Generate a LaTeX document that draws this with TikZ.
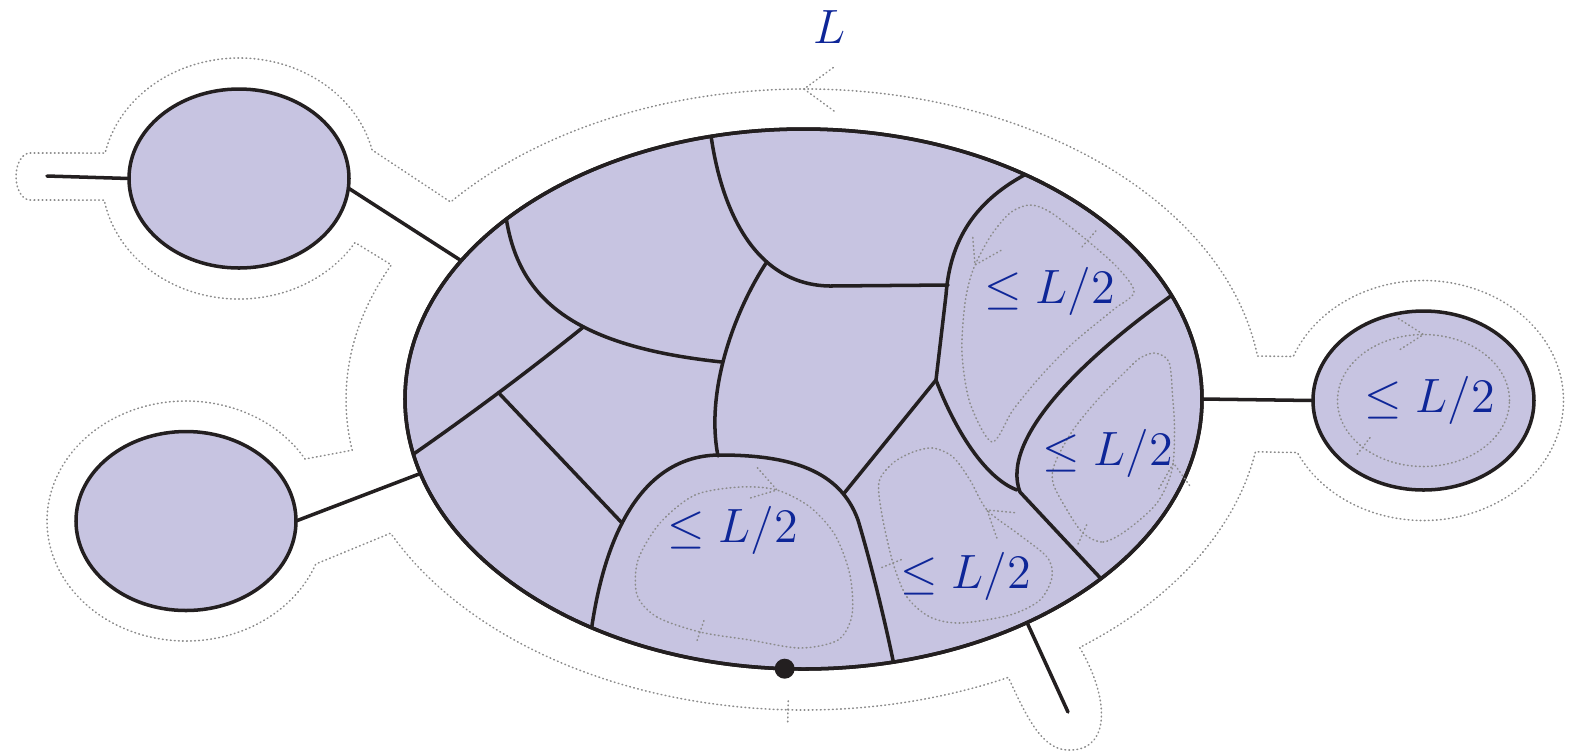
\RequirePackage{fix-cm}
\documentclass[tikz,border=0pt]{standalone}
\usetikzlibrary{shapes.geometric,calc}
\begin{document}
\begin{tikzpicture}[x=1cm,y=1cm,line cap=round,line join=round]
\definecolor{blobc}{RGB}{199,196,225}
\definecolor{wallc}{RGB}{35,31,32}
\definecolor{labc}{RGB}{14,38,152}
\colorlet{loopc}{black!45}

\tikzset{
blob/.style={ellipse, draw=wallc, fill=blobc, line width=1pt, inner sep=0pt, outer sep=0pt},
wall/.style={draw=wallc, line width=1pt},
loopline/.style={draw=loopc, line width=0.45pt, dash pattern=on 0.2pt off 0.95pt},
looptip/.pic={\draw[loopline] (-0.25,0.16) -- (0,0) -- (-0.25,-0.16);},
looptick/.pic={\draw[loopline] (0,-0.12) -- (0,0.12);},
outertip/.pic={\draw[loopline] (-0.30,0.22) -- (0,0) -- (-0.30,-0.22);},
lab/.style={text=labc, font=\fontsize{13.7pt}{16pt}\selectfont, inner sep=0pt, anchor=base},
rootdot/.style={circle, fill=wallc, minimum size=0.2cm, inner sep=0pt}
}

\useasboundingbox (0,0) rectangle (15.72,-7.55);

\node[blob, minimum width=7.97cm, minimum height=5.40cm] (core) at (8.035,-3.99) {};
\node[blob, minimum width=2.20cm, minimum height=1.79cm] (nwblob) at (2.39,-1.785) {};
\node[blob, minimum width=2.20cm, minimum height=1.79cm] (swblob) at (1.86,-5.21) {};
\node[blob, minimum width=2.21cm, minimum height=1.79cm] (eblob) at (14.235,-4.005) {};
\coordinate (oc) at (8.04,-3.995);
\coordinate (nwstub) at (0.47,-1.76);
\coordinate (sstub) at (10.68,-7.12);

\draw[wall] (nwstub) -- (nwblob.west);
\draw[wall] (nwblob.-5) -- (core.158.3);
\draw[wall] (swblob.east) -- (core.191.2);
\draw[wall] (core.east) -- (eblob.west);
\draw[wall] (core.-45.7) -- (sstub);

% cells
\begin{scope}
\clip (core.center) ellipse [x radius=3.985, y radius=2.70];
\draw[wall] (7.10,-1.28) .. controls (7.20,-2.10) and (7.55,-2.85) .. (8.30,-2.86) coordinate[pos=0.66] (j1) -- (9.48,-2.85);
\draw[wall] (5.05,-2.10) .. controls (5.15,-2.90) and (5.60,-3.45) .. (7.22,-3.62) coordinate[pos=0.62] (j2);
\draw[wall] (j1) .. controls (7.35,-3.10) and (7.05,-3.90) .. (7.18,-4.56);
\draw[wall] (j2) .. controls (5.30,-3.70) and (4.70,-4.15) .. (4.05,-4.60) coordinate[pos=0.5] (j3);
\draw[wall] (5.90,-6.40) .. controls (6.05,-5.20) and (6.50,-4.55) .. (7.20,-4.55) coordinate[pos=0.4] (j4)
  .. controls (7.90,-4.55) and (8.40,-4.70) .. (8.58,-5.20) coordinate[pos=0.8] (j5)
  .. controls (8.70,-5.60) and (8.85,-6.20) .. (8.95,-6.70);
\draw[wall] (j3) -- (j4);
\draw[wall] (10.30,-1.72) .. controls (9.75,-2.00) and (9.50,-2.40) .. (9.46,-2.95) -- (9.36,-3.80) coordinate (j6)
  .. controls (9.55,-4.30) and (9.85,-4.78) .. (10.17,-4.90);
\draw[wall] (j5) -- (j6);
\draw[wall] (11.75,-2.93) .. controls (10.80,-3.60) and (10.00,-4.40) .. (10.20,-4.92) -- (11.05,-5.83);
\end{scope}
\draw[wall] (core.center) ellipse [x radius=3.985, y radius=2.70];

\node[rootdot] (root) at (core.-94.1) {};

% loops
\draw[loopline] plot[smooth cycle] coordinates {(10.83,-2.37) (10.50,-2.12) (10.30,-2.05) (10.10,-2.13) (9.90,-2.37) (9.73,-2.70) (9.65,-3.03) (9.62,-3.53) (9.70,-4.03) (9.92,-4.42) (10.13,-4.10) (10.40,-3.77) (10.73,-3.43) (11.13,-3.10) (11.34,-2.92) (11.17,-2.67)};
\pic[rotate=139] at (10.88,-2.40) {looptick};
\pic[rotate=242] at (9.75,-2.65) {looptip};
\draw[loopline] plot[smooth cycle] coordinates {(10.83,-5.33) (11.03,-5.42) (11.27,-5.30) (11.57,-5.03) (11.72,-4.70) (11.745,-4.30) (11.725,-3.95) (11.69,-3.62) (11.55,-3.53) (11.40,-3.58) (11.27,-3.70) (11.00,-3.97) (10.73,-4.30) (10.55,-4.63) (10.53,-4.83) (10.67,-5.10)};
\pic[rotate=-24] at (10.83,-5.33) {looptick};
\pic[rotate=93] at (11.735,-4.63) {looptip};
\draw[loopline] plot[smooth cycle] coordinates {(8.93,-5.63) (9.07,-5.97) (9.30,-6.17) (9.60,-6.23) (10.10,-6.15) (10.40,-6.00) (10.52,-5.77) (10.47,-5.57) (10.17,-5.33) (9.87,-5.10) (9.70,-4.80) (9.53,-4.57) (9.33,-4.48) (9.13,-4.52) (8.93,-4.63) (8.79,-4.82) (8.82,-5.15)};
\pic[rotate=-68] at (8.93,-5.63) {looptick};
\pic[rotate=142] at (9.87,-5.10) {looptip};
\draw[loopline] plot[smooth cycle] coordinates {(7.00,-6.32) (6.57,-6.17) (6.37,-5.95) (6.38,-5.60) (6.60,-5.23) (6.95,-4.95) (7.40,-4.87) (7.77,-4.90) (8.10,-5.07) (8.35,-5.35) (8.50,-5.75) (8.52,-6.15) (8.38,-6.40) (8.00,-6.48) (7.50,-6.40)};
\pic[rotate=161] at (7.00,-6.32) {looptick};
\pic[rotate=-16] at (7.77,-4.90) {looptip};
\draw[loopline] (eblob.center) ellipse [x radius=0.86, y radius=0.66];
\pic[rotate=142.5] at ($(eblob.center)+(225:0.86cm and 0.66cm)$) {looptick};
\pic at ($(eblob.center)+(0,0.66)$) {looptip};

% boundary walk
\draw[loopline] ($(oc)+(-92:4.58cm and 3.105cm)$) arc[start angle=-92, end angle=-63.5, x radius=4.58, y radius=3.105]
  .. controls (10.30,-7.25) and (10.45,-7.52) .. (10.72,-7.50)
  .. controls (11.12,-7.48) and (11.08,-6.95) .. ($(oc)+(-53:4.58cm and 3.105cm)$)
  arc[start angle=-53, end angle=-9.7, x radius=4.58, y radius=3.105]
  -- ($(eblob.center)+(-154.3:1.40cm and 1.20cm)$)
  arc[start angle=-154.3, end angle=158.5, x radius=1.40, y radius=1.20]
  -- ($(oc)+(8.05:4.58cm and 3.105cm)$)
  arc[start angle=8.05, end angle=140.5, x radius=4.58, y radius=3.105]
  -- ($(nwblob.center)+(13.7:1.37cm and 1.205cm)$)
  arc[start angle=13.7, end angle=167.8, x radius=1.37, y radius=1.205]
  -- (0.30,-1.53)
  arc[start angle=90, end angle=270, x radius=0.14, y radius=0.235]
  -- ($(nwblob.center)+(190.3:1.37cm and 1.205cm)$)
  arc[start angle=190.3, end angle=327.9, x radius=1.37, y radius=1.205]
  -- ($(oc)+(154.3:4.58cm and 3.105cm)$)
  arc[start angle=154.3, end angle=189.4, x radius=4.58, y radius=3.105]
  -- ($(swblob.center)+(31.1:1.39cm and 1.20cm)$)
  arc[start angle=31.1, end angle=339, x radius=1.39, y radius=1.20]
  -- ($(oc)+(205.5:4.58cm and 3.105cm)$)
  arc[start angle=205.5, end angle=268, x radius=4.58, y radius=3.105]
  -- cycle;
\pic[rotate=-1.4] at ($(oc)+(-92:4.58cm and 3.105cm)$) {looptick};
\pic[rotate=180] at ($(oc)+(90:4.58cm and 3.105cm)$) {outertip};

\node[lab] (lenlab) at (8.30,-0.43) {$L$};
\node[lab] (labA) at (10.50,-3.03) {$\leq L/2$};
\node[lab] (labB) at (11.08,-4.65) {$\leq L/2$};
\node[lab] (labC) at (9.66,-5.88) {$\leq L/2$};
\node[lab] (labD) at (7.33,-5.42) {$\leq L/2$};
\node[lab] (labE) at (14.30,-4.12) {$\leq L/2$};
\end{tikzpicture}
\end{document}
